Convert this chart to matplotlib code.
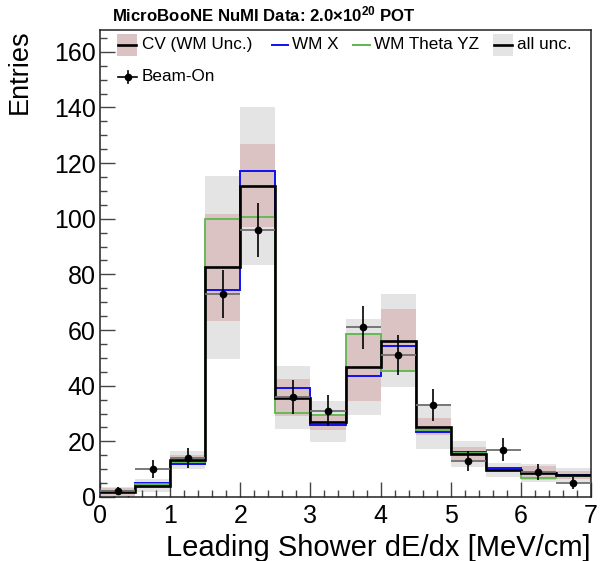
import numpy as np
import matplotlib
matplotlib.use("Agg")
import matplotlib.pyplot as plt
from matplotlib.patches import Rectangle
from matplotlib.lines import Line2D
from matplotlib.ticker import MultipleLocator

plt.rcParams['font.family'] = ['Liberation Sans', 'DejaVu Sans']
plt.rcParams['mathtext.fontset'] = 'custom'
plt.rcParams['mathtext.rm'] = 'Liberation Sans'
plt.rcParams['mathtext.bf'] = 'Liberation Sans:bold'
plt.rcParams['mathtext.default'] = 'bf'

# ---- data ----
bin_edges = [0.0, 0.5, 1.0, 1.5, 2.0, 2.5, 3.0, 3.5, 4.0, 4.5, 5.0, 5.5, 6.0, 6.5, 7.0]
cv       = [1.7, 4.1, 13.3, 82.5, 111.9, 35.7, 27.0, 46.7, 56.2, 25.3, 15.5, 9.7, 8.6, 8.0]
wm_x     = [1.9, 5.1, 12.0, 74.5, 117.0, 39.3, 26.0, 43.5, 54.1, 23.3, 16.1, 10.3, 8.7, 8.0]
wm_theta = [2.0, 4.8, 12.5, 99.9, 100.6, 30.1, 29.3, 58.7, 45.3, 24.1, 15.8, 9.7, 6.7, 7.5]
wm_unc   = [1.5, 1.0, 1.8, 19.3, 15.0, 6.7, 3.0, 12.3, 11.3, 3.0, 2.4, 0.8, 2.5, 1.5]
all_unc  = [1.8, 2.3, 3.4, 32.8, 28.4, 11.4, 7.4, 17.4, 16.8, 8.0, 4.7, 2.4, 3.2, 2.5]
beam_on  = [2, 10, 14, 73, 96, 36, 31, 61, 51, 33, 13, 17, 9, 5]
legend_labels = ['CV (WM Unc.)', 'WM X', 'WM Theta YZ', 'all unc.', 'Beam-On']

edges = np.array(bin_edges)
cv_a = np.array(cv)
centers = 0.5 * (edges[:-1] + edges[1:])
halfw = 0.5 * np.diff(edges)
data = np.array(beam_on, dtype=float)
derr = np.sqrt(data)

PINK = '#dbc3c3'
GRAY = '#e4e4e4'
BLUE = '#1010ee'
GREEN = '#5cb84c'

W, H = 600, 561
fig = plt.figure(figsize=(W/100, H/100), dpi=100)
ax = fig.add_axes([100/W, (H-497)/H, 491/W, (497-29.5)/H])

all_a = np.array(all_unc)
wm_a = np.array(wm_unc)
ax.stairs(cv_a + all_a, edges, baseline=cv_a - all_a, fill=True, color=GRAY, lw=0, zorder=1)
ax.stairs(cv_a + wm_a, edges, baseline=cv_a - wm_a, fill=True, color=PINK, lw=0, zorder=2)

ax.stairs(wm_x, edges, baseline=None, color=BLUE, lw=1.4, zorder=3)
ax.stairs(wm_theta, edges, baseline=None, color=GREEN, lw=1.3, zorder=3)
ax.stairs(cv, edges, baseline=None, color='black', lw=1.9, zorder=4)

ax.errorbar(centers, data, xerr=halfw, fmt='none', ecolor='#6e6e6e', elinewidth=1.3, zorder=5)
ax.errorbar(centers, data, yerr=derr, fmt='o', color='black', ms=4.5, elinewidth=1.2,
            capsize=0, zorder=6)

ax.set_xlim(0, 7)
ax.set_ylim(0, 168)
ax.xaxis.set_major_locator(MultipleLocator(1))
ax.xaxis.set_minor_locator(MultipleLocator(0.2))
ax.yaxis.set_major_locator(MultipleLocator(20))
ax.yaxis.set_minor_locator(MultipleLocator(5))
ax.tick_params(which='both', direction='in', top=False, right=False, color='#444444', width=1.0)
ax.tick_params(which='major', length=10.5, labelsize=18, pad=3)
ax.tick_params(axis='x', which='major', pad=5)
ax.tick_params(which='minor', length=5.2)
for s in ax.spines.values():
    s.set_linewidth(1.1)
    s.set_color('#222222')

def fx(px):
    return px / W

def fy(py):
    return 1 - py / H

fig.text(fx(591), fy(548), 'Leading Shower dE/dx [MeV/cm]', ha='right', va='center', fontsize=21)
fig.text(fx(20), fy(29), 'Entries', rotation=90, ha='center', va='top', fontsize=19.5)
fig.text(fx(112), fy(21), 'MicroBooNE NuMI Data: 2.0×10$^{20}$ POT', ha='left', va='baseline',
         fontsize=12.1, fontweight='bold')

# ---- legend (ROOT-style, placed by hand) ----
LFS = 12.3
r1, r2 = 44.5, 76.5
# CV box + line
fig.add_artist(Rectangle((fx(117), fy(r1 + 11)), fx(20), 22/H, transform=fig.transFigure,
                         facecolor=PINK, edgecolor='none'))
fig.add_artist(Line2D([fx(118), fx(136)], [fy(r1), fy(r1)], transform=fig.transFigure,
                      color='black', lw=1.9))
fig.text(fx(142), fy(r1), legend_labels[0], ha='left', va='center', fontsize=LFS)
# WM X
fig.add_artist(Line2D([fx(272), fx(288)], [fy(r1), fy(r1)], transform=fig.transFigure,
                      color=BLUE, lw=1.4))
fig.text(fx(292), fy(r1), legend_labels[1], ha='left', va='center', fontsize=LFS)
# WM Theta YZ
fig.add_artist(Line2D([fx(353), fx(370)], [fy(r1), fy(r1)], transform=fig.transFigure,
                      color=GREEN, lw=1.4))
fig.text(fx(374), fy(r1), legend_labels[2], ha='left', va='center', fontsize=LFS)
# all unc.
fig.add_artist(Rectangle((fx(493), fy(r1 + 11)), fx(20), 22/H, transform=fig.transFigure,
                         facecolor=GRAY, edgecolor='none'))
fig.add_artist(Line2D([fx(494), fx(512)], [fy(r1), fy(r1)], transform=fig.transFigure,
                      color='black', lw=1.9))
fig.text(fx(517), fy(r1), legend_labels[3], ha='left', va='center', fontsize=LFS)
# Beam-On
fig.add_artist(Line2D([fx(118), fx(137)], [fy(r2), fy(r2)], transform=fig.transFigure,
                      color='black', lw=1.2))
fig.add_artist(Line2D([fx(127.5), fx(127.5)], [fy(r2 - 6), fy(r2 + 6)], transform=fig.transFigure,
                      color='black', lw=1.2))
fig.add_artist(Line2D([fx(127.5)], [fy(r2)], transform=fig.transFigure,
                      color='black', marker='o', ms=4.5, ls=''))
fig.text(fx(142), fy(r2), legend_labels[4], ha='left', va='center', fontsize=LFS)

fig.savefig('out.png', dpi=100)
